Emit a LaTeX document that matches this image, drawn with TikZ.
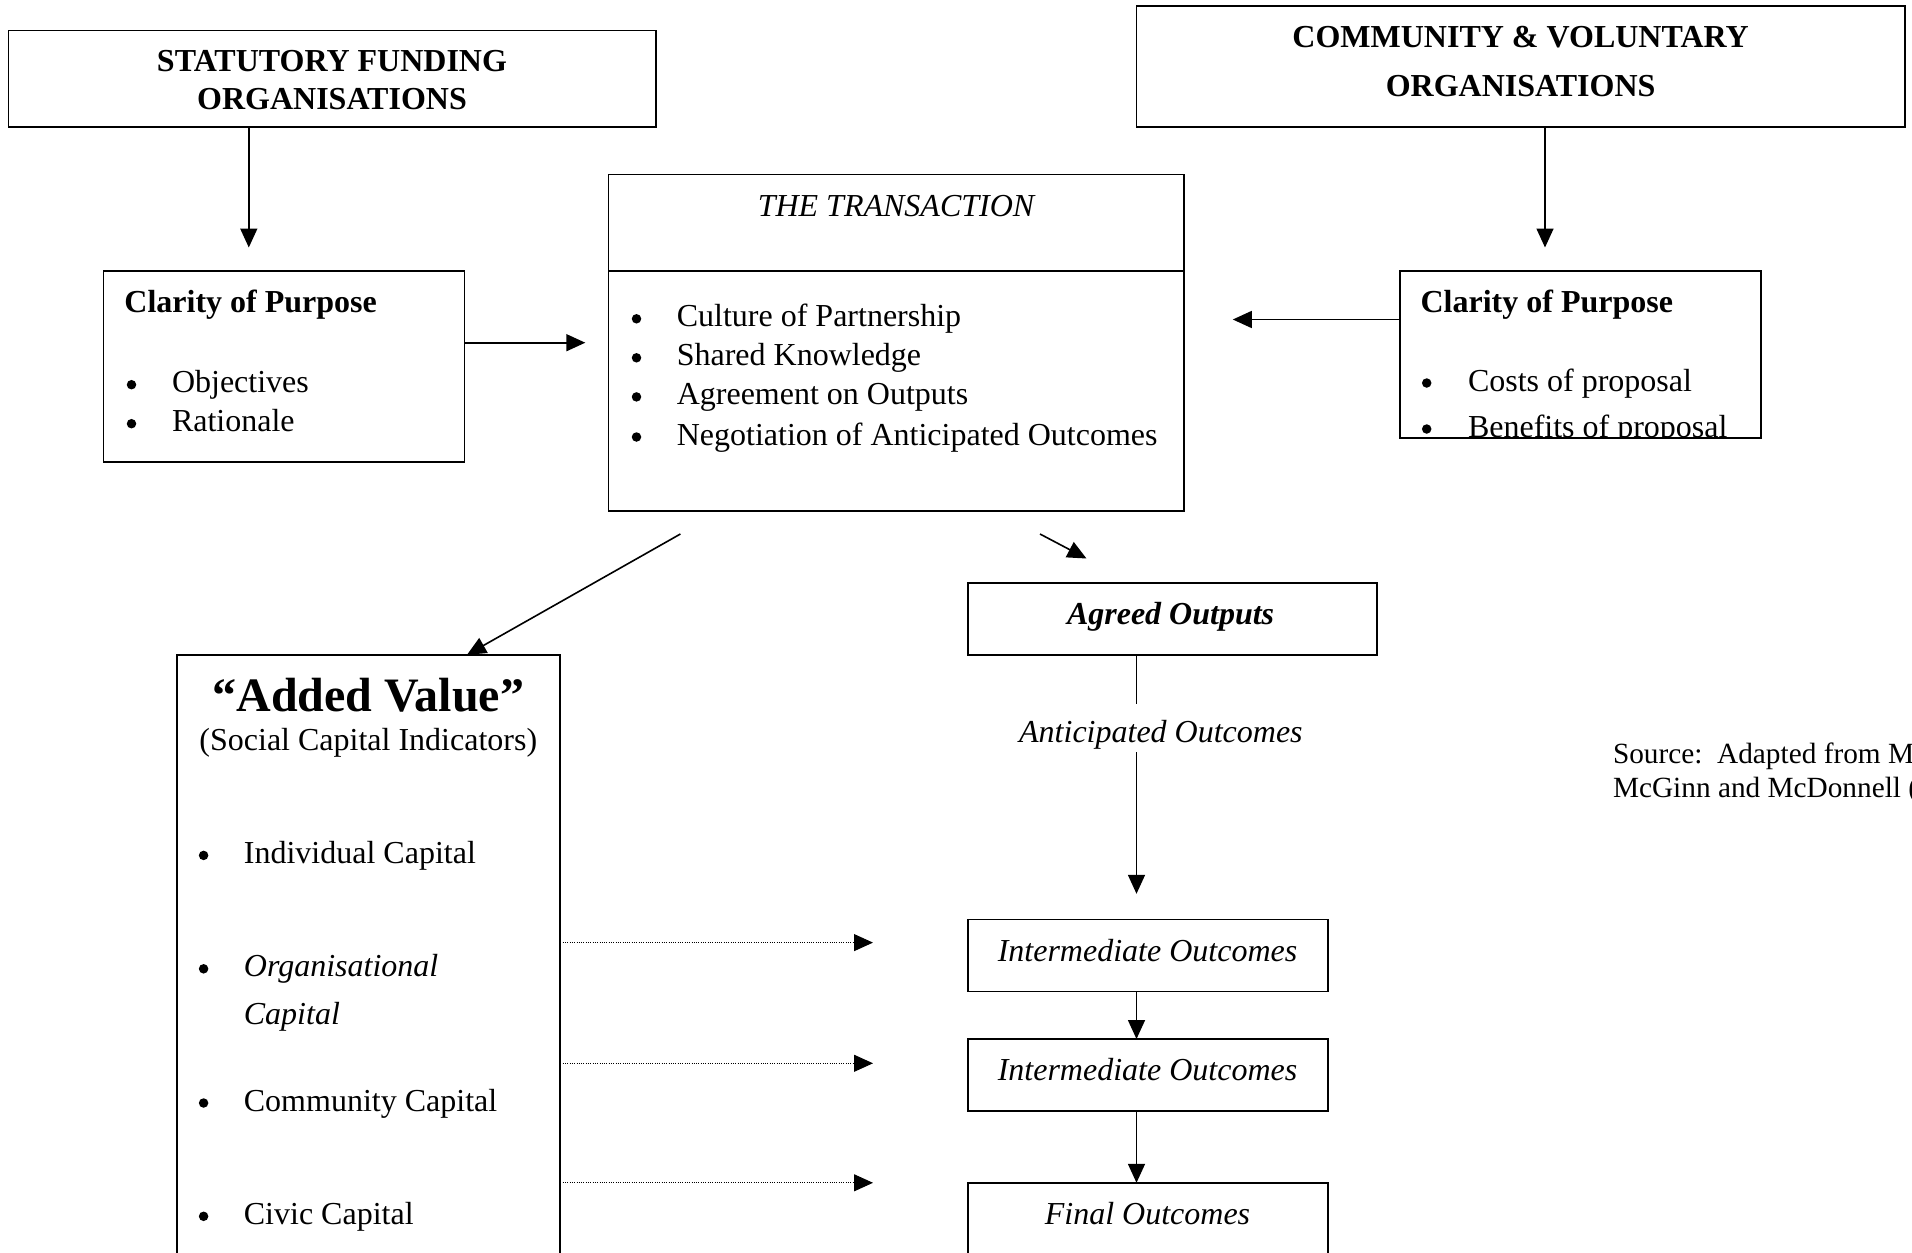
\documentclass[tikz,border=0pt]{standalone}
\usepackage{fontspec}
\setmainfont{Liberation Serif}
\usetikzlibrary{arrows.meta}
\begin{document}
\begin{tikzpicture}[x=1pt,y=-1pt,
 box/.style={draw,line width=1.6pt,inner sep=0pt,outer sep=0pt,anchor=north west},
 txt/.style={inner sep=0pt,outer sep=0pt,font=\fontsize{32}{38}\selectfont},
 big/.style={inner sep=0pt,outer sep=0pt,font=\fontsize{48}{56}\selectfont\bfseries},
 bul/.style={circle,fill=black,inner sep=0pt,minimum size=9.5pt},
 conn/.style={line width=1.6pt},
 arr/.style={line width=1.6pt,-{Triangle[length=19pt,width=17pt]}},
 dotarr/.style={line width=1pt,dash pattern=on 1pt off 1.3pt,-{Triangle[length=19pt,width=17pt]}},
]
\useasboundingbox (0,0) rectangle (1912,1253);
\fill[white] (0,0) rectangle (1912,1253);
\clip (0,0) rectangle (1912,1253);

% ---------- boxes ----------
\node[box,minimum width=647.5pt,minimum height=96.5pt] (stat) at (8.5,30.5) {};
\node[box,minimum width=768.2pt,minimum height=121pt] (comm) at (1136.5,6) {};
\node[box,minimum width=361pt,minimum height=191.5pt] (lclar) at (103.6,270.7) {};
\node[box,minimum width=575.5pt,minimum height=336.6pt] (trans) at (608.5,174.4) {};
\node[box,minimum width=360.8pt,minimum height=167.1pt] (rclar) at (1400,270.7) {};
\node[box,minimum width=408.5pt,minimum height=71.9pt] (agreed) at (968.2,582.9) {};
\node[box,minimum width=359.7pt,minimum height=72pt] (int1) at (968.2,919.4) {};
\node[box,minimum width=359.7pt,minimum height=71.9pt] (int2) at (968.2,1039) {};
\node[box,minimum width=359.7pt,minimum height=110pt] (final) at (968.2,1182.8) {};
\node[box,minimum width=382.9pt,minimum height=660pt] (added) at (176.8,654.8) {};

\coordinate (div) at (0,270.7);
\draw[conn] (trans.west |- div) -- (trans.east |- div);

% ---------- texts ----------
\node[txt,anchor=base,font=\fontsize{32}{38}\selectfont\bfseries] (stat1) at (332,71) {STATUTORY FUNDING};
\node[txt,anchor=base,font=\fontsize{32}{38}\selectfont\bfseries] (stat2) at (332,109) {ORGANISATIONS};
\node[txt,anchor=base,font=\fontsize{32}{38}\selectfont\bfseries] (comm1) at (1520.6,47) {COMMUNITY \& VOLUNTARY};
\node[txt,anchor=base,font=\fontsize{32}{38}\selectfont\bfseries] (comm2) at (1520.6,96) {ORGANISATIONS};

\node[txt,anchor=base west,font=\fontsize{32}{38}\selectfont\bfseries] (lct) at (124.4,312) {Clarity of Purpose};
\node[bul] (lb1) at (131.5,384.7) {};
\node[txt,anchor=base west] (lo) at (172,392.7) {Objectives};
\node[bul] (lb2) at (131.5,423.7) {};
\node[txt,anchor=base west] (lr) at (172,431.7) {Rationale};

\node[txt,anchor=base,font=\fontsize{32}{38}\selectfont\itshape] (tt) at (896,216) {THE TRANSACTION};
\node[bul] (tb1) at (636.5,318.8) {};
\node[txt,anchor=base west] (tx1) at (676.8,326.8) {Culture of Partnership};
\node[bul] (tb2) at (636.5,357.8) {};
\node[txt,anchor=base west] (tx2) at (676.8,365.8) {Shared Knowledge};
\node[bul] (tb3) at (636.5,396.9) {};
\node[txt,anchor=base west] (tx3) at (676.8,404.9) {Agreement on Outputs};
\node[bul] (tb4) at (636.5,437) {};
\node[txt,anchor=base west] (tx4) at (676.8,445) {Negotiation of Anticipated Outcomes};

\node[txt,anchor=base west,font=\fontsize{32}{38}\selectfont\bfseries] (rct) at (1420.6,312) {Clarity of Purpose};
\begin{scope}
\clip (rclar.north west) rectangle (rclar.south east);
\node[bul] (rb1) at (1426.7,383) {};
\node[txt,anchor=base west] (rc) at (1468,391) {Costs of proposal};
\node[bul] (rb2) at (1426.7,429) {};
\node[txt,anchor=base west] (rbn) at (1468,437) {Benefits of proposal};
\end{scope}

\node[txt,anchor=base,font=\fontsize{32}{38}\selectfont\bfseries\itshape] (ag) at (1170.6,624.4) {Agreed Outputs};
\node[txt,anchor=base,font=\fontsize{32}{38}\selectfont\itshape] (ant) at (1160.9,742.6) {Anticipated Outcomes};
\node[txt,anchor=base,font=\fontsize{32}{38}\selectfont\itshape] (i1) at (1147.5,961) {Intermediate Outcomes};
\node[txt,anchor=base,font=\fontsize{32}{38}\selectfont\itshape] (i2) at (1147.5,1080.4) {Intermediate Outcomes};
\node[txt,anchor=base,font=\fontsize{32}{38}\selectfont\itshape] (fo) at (1147.5,1224.3) {Final Outcomes};

\node[big,anchor=base] (av) at (368.3,711) {``Added Value''};
\node[txt,anchor=base] (sci) at (368.3,750) {(Social Capital Indicators)};
\node[bul] (ab1) at (203.6,855.4) {};
\node[txt,anchor=base west] (ic) at (243.9,863.4) {Individual Capital};
\node[bul] (ab2) at (203.6,968.8) {};
\node[txt,anchor=base west,font=\fontsize{32}{38}\selectfont\itshape] (oc1) at (243.9,976.8) {Organisational};
\node[txt,anchor=base west,font=\fontsize{32}{38}\selectfont\itshape] (oc2) at (243.9,1024.3) {Capital};
\node[bul] (ab3) at (203.6,1103) {};
\node[txt,anchor=base west] (cc) at (243.9,1111) {Community Capital};
\node[bul] (ab4) at (203.6,1216.3) {};
\node[txt,anchor=base west] (cv) at (243.9,1224.3) {Civic Capital};

\node[txt,anchor=base west,font=\fontsize{29.3}{34}\selectfont] (src1) at (1613,763.5) {Source:\ \ Adapted from M};
\node[txt,anchor=base west,font=\fontsize{29.3}{34}\selectfont] (src2) at (1613,797.5) {McGinn and McDonnell (};

% ---------- connectors ----------
\coordinate (t1) at (248.8,247.5);
\draw[arr] (stat.south -| t1) -- (t1);
\coordinate (t2) at (1545,247.5);
\draw[arr] (comm.south -| t2) -- (t2);
\coordinate (t3) at (585.3,342.7);
\draw[arr] (lclar.east |- t3) -- (t3);
\coordinate (t4) at (1232.8,319.5);
\draw[arr] (rclar.west |- t4) -- (t4);
\coordinate (s5) at (680.4,534);
\coordinate (t5) at (467,0);
\draw[arr] (s5) -- (t5 |- added.north);
\coordinate (s6) at (1040,534);
\coordinate (t6) at (1086.5,558.5);
\draw[arr] (s6) -- (t6);
\coordinate (g1) at (1136.5,703.6);
\coordinate (g2) at (1136.5,752.4);
\coordinate (t7) at (1136.5,893.8);
\draw[conn] (agreed.south -| g1) -- (g1);
\draw[arr] (g2) -- (t7);
\draw[arr] (int1.south -| g1) -- (int2.north -| g1);
\draw[arr] (int2.south -| g1) -- (final.north -| g1);
\coordinate (d1) at (873,942.6);
\coordinate (d2) at (873,1063.3);
\coordinate (d3) at (873,1182.8);
\draw[dotarr] ([xshift=3pt]added.east |- d1) -- (d1);
\draw[dotarr] ([xshift=3pt]added.east |- d2) -- (d2);
\draw[dotarr] ([xshift=3pt]added.east |- d3) -- (d3);
\end{tikzpicture}
\end{document}
